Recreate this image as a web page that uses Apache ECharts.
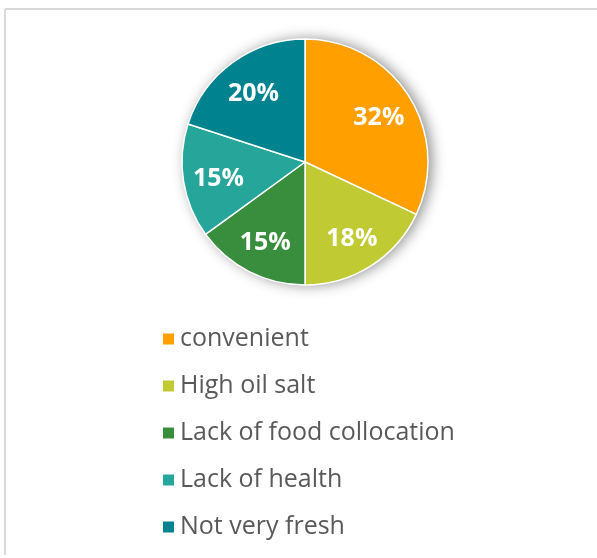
<!DOCTYPE html>
<html>
<head>
<meta charset="utf-8">
<script src="https://cdn.jsdelivr.net/npm/echarts@6/dist/echarts.min.js"></script>
<style>html,body{margin:0;padding:0;background:#fff}#c{width:597px;height:558px}</style>
</head>
<body>
<div id="c"></div>
<script>
var categories = ['convenient', 'High oil salt', 'Lack of food collocation', 'Lack of health', 'Not very fresh'];
var values = [32, 18, 15, 15, 20];
var colors = ['#FFA000', '#C0CA33', '#388E3C', '#26A69A', '#00838F'];

var chart = echarts.init(document.getElementById('c'), null, {renderer: 'canvas'});
var pieData = categories.map(function (c, i) { return {name: c, value: values[i], itemStyle: {color: colors[i]}}; });
var labelData = categories.map(function (c, i) { return {name: c, value: values[i]}; });

chart.setOption({
  animation: false,
  backgroundColor: '#fff',
  graphic: [
    {type: 'line', shape: {x1: 5, y1: 9, x2: 597, y2: 9}, style: {stroke: '#d9d9d9', lineWidth: 2}},
    {type: 'line', shape: {x1: 5, y1: 9, x2: 5, y2: 555}, style: {stroke: '#d9d9d9', lineWidth: 2}}
  ],
  legend: {
    orient: 'vertical',
    left: 161,
    top: 326,
    padding: 0,
    icon: 'rect',
    itemWidth: 13,
    itemHeight: 13,
    itemGap: 21,
    data: categories,
    textStyle: {fontFamily: 'Open Sans', fontSize: 25, color: '#595959', lineHeight: 26}
  },
  series: [
    {
      type: 'pie', silent: true, center: [305, 162], radius: [0, 123],
      label: {show: false}, labelLine: {show: false}, legendHoverLink: false,
      data: [{name: '_bg', value: 1, itemStyle: {color: '#fff', shadowBlur: 14, shadowOffsetX: 4, shadowOffsetY: 0, shadowColor: 'rgba(0,0,0,0.45)'}}],
      z: 1
    },
    {
      type: 'pie', center: [305, 162], radius: [0, 123], startAngle: 90, clockwise: true,
      itemStyle: {borderColor: '#fff', borderWidth: 1.5},
      label: {show: false}, labelLine: {show: false},
      data: pieData, z: 2
    },
    {
      type: 'pie', silent: true, center: [305, 162], radius: [46, 123], startAngle: 90, clockwise: true,
      itemStyle: {color: 'rgba(0,0,0,0)'},
      label: {show: true, position: 'inside', formatter: '{c}%', color: '#fff', fontFamily: 'Open Sans', fontWeight: 'bold', fontSize: 25, offset: [0, 3]},
      labelLine: {show: false},
      data: labelData, z: 3
    }
  ]
});
</script>
</body>
</html>
